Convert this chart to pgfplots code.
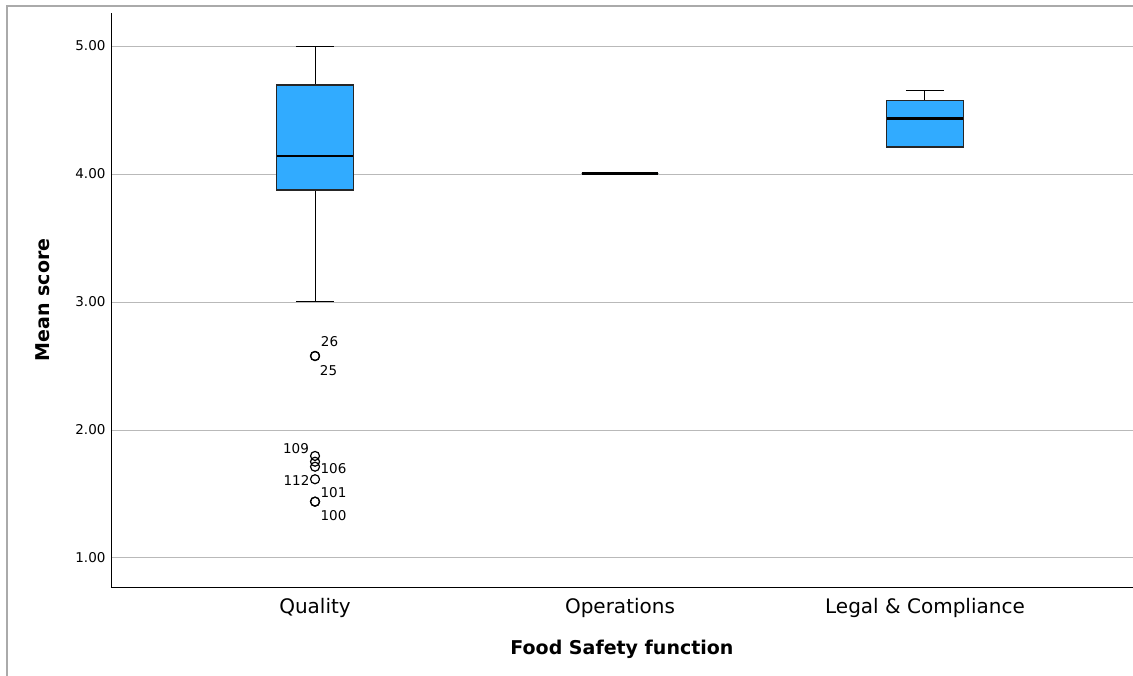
\documentclass[border=0pt]{standalone}
\usepackage{pgfplots}
\pgfplotsset{compat=1.18}
\usepackage{fontspec}
\setmainfont{DejaVu Sans}
\setsansfont{DejaVu Sans}

\definecolor{boxblue}{RGB}{49,171,255}
\definecolor{gridgray}{RGB}{185,185,185}
\definecolor{framegray}{RGB}{170,170,170}

% Outlying cases of the Quality group (mean score)
\pgfplotstableread{
x   y
0   2.578
0   2.578
0   1.797
0   1.752
0   1.713
0   1.615
0   1.440
0   1.440
}\outliers

% box half width and whisker cap half width (x units)
\def\bw{0.126}
\def\cw{0.0625}

\begin{document}
\begin{tikzpicture}
% page extent (1pt per pixel), axis box at the origin
\path[use as bounding box] (-111pt,-88pt) rectangle (1022pt,587pt);
% outer panel frame
\draw[framegray, line width=1.5pt] (-104pt,-90pt) -- (-104pt,581pt) -- (1030pt,581pt);

\begin{axis}[
  at={(0pt,0pt)}, anchor=south west,
  scale only axis,
  width=1022pt, height=574pt,
  xmin=-0.669, xmax=2.682,
  ymin=0.773, ymax=5.258,
  axis x line*=bottom, axis y line*=left,
  axis line style={black, line width=0.9pt, -},
  xtick={0,1,2},
  xticklabels={Quality, Operations, Legal \& Compliance},
  ytick={1,2,3,4,5},
  yticklabels={1.00,2.00,3.00,4.00,5.00},
  major tick length=0pt,
  ymajorgrids,
  grid style={gridgray, line width=0.9pt},
  x tick label style={font=\fontsize{20}{24}\selectfont, yshift=-8pt},
  y tick label style={font=\fontsize{13.5}{16}\selectfont, xshift=-2pt},
  xlabel={\textbf{Food Safety function}},
  ylabel={\textbf{Mean score}},
  xlabel style={font=\fontsize{19}{23}\selectfont, yshift=-15pt},
  ylabel style={font=\fontsize{19}{23}\selectfont, yshift=19pt},
  clip=false,
  whisk/.style={black, line width=1pt, forget plot},
  med/.style={black, line width=2.9pt, forget plot},
  boxs/.style={draw=black!85, line width=1.3pt, fill=boxblue, forget plot},
]

% ---------- Quality: whiskers 3.00 / 5.00, Q1 3.875, median 4.141, Q3 4.695
\addplot[whisk] coordinates {(0,3.875) (0,3.00)};
\addplot[whisk] coordinates {(0,4.695) (0,5.00)};
\addplot[whisk] coordinates {(-\cw,3.00) (\cw,3.00)};
\addplot[whisk] coordinates {(-\cw,5.00) (\cw,5.00)};
\addplot[boxs] coordinates {(-\bw,3.875) (\bw,3.875) (\bw,4.695) (-\bw,4.695)} -- cycle;
\addplot[med] coordinates {(-\bw,4.141) (\bw,4.141)};

% ---------- Operations: all responses equal (4.00)
\addplot[boxs] coordinates {(1-\bw,4.005) (1+\bw,4.005) (1+\bw,4.005) (1-\bw,4.005)} -- cycle;
\addplot[med] coordinates {(1-\bw,4.005) (1+\bw,4.005)};

% ---------- Legal & Compliance: whiskers 4.211 / 4.651, Q1 4.211, median 4.432, Q3 4.573
\addplot[whisk] coordinates {(2,4.573) (2,4.651)};
\addplot[whisk] coordinates {(2-\cw,4.651) (2+\cw,4.651)};
\addplot[boxs] coordinates {(2-\bw,4.211) (2+\bw,4.211) (2+\bw,4.573) (2-\bw,4.573)} -- cycle;
\addplot[med] coordinates {(2-\bw,4.432) (2+\bw,4.432)};

% outliers
\addplot[only marks, mark=o, mark size=4.5pt, black, line width=1.2pt]
  table[x=x, y=y] {\outliers};

% case numbers beside the outliers
\begin{scope}[every node/.style={font=\fontsize{13.5}{16}\selectfont, inner sep=0pt}]
\node at (axis cs:0,2.578) [xshift=14.5pt, yshift=14pt] {26};
\node at (axis cs:0,2.578) [xshift=13.5pt, yshift=-15pt] {25};
\node at (axis cs:0,1.797) [xshift=-19pt, yshift=7pt] {109};
\node at (axis cs:0,1.713) [xshift=18.5pt, yshift=-2pt] {106};
\node at (axis cs:0,1.615) [xshift=-18.5pt, yshift=-1pt] {112};
\node at (axis cs:0,1.440) [xshift=18.5pt, yshift=8.7pt] {101};
\node at (axis cs:0,1.440) [xshift=18.5pt, yshift=-14.3pt] {100};
\end{scope}
\end{axis}
\end{tikzpicture}
\end{document}
